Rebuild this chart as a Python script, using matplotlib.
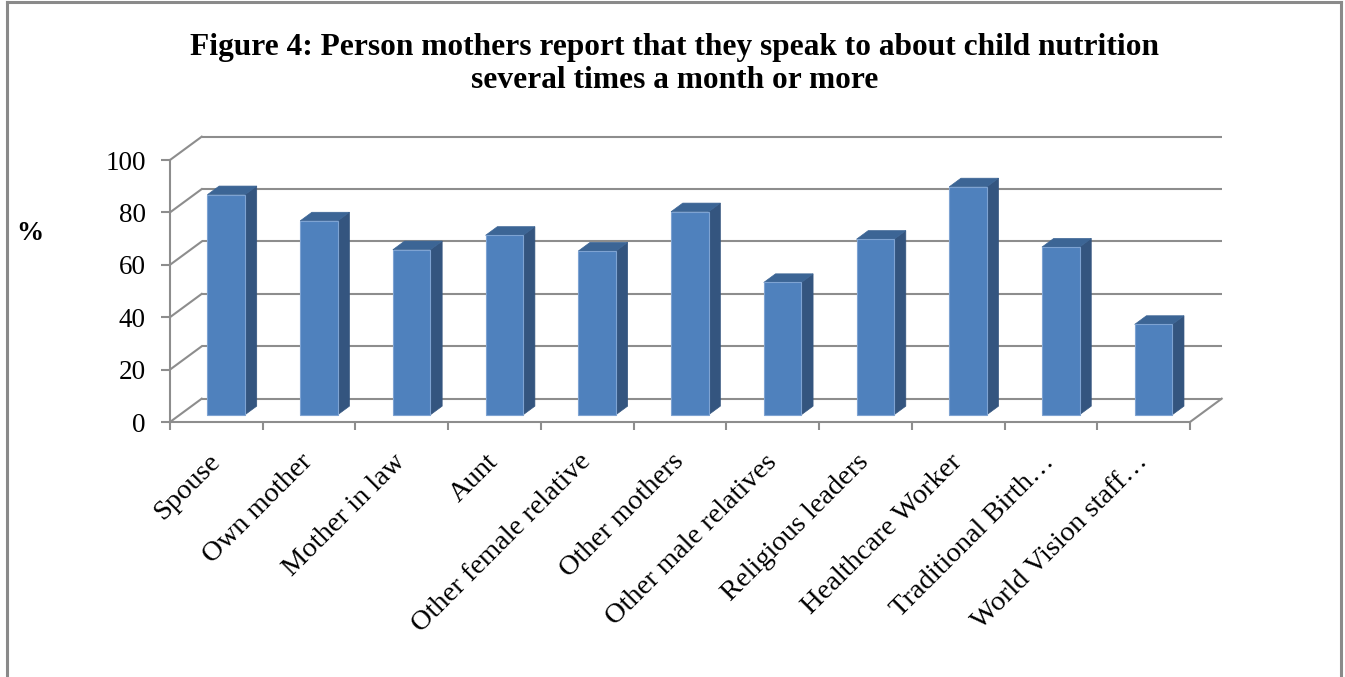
import matplotlib
matplotlib.use("Agg")
import matplotlib.pyplot as plt
from matplotlib.patches import Polygon
from matplotlib.lines import Line2D

# --- data -------------------------------------------------------------
categories = [
    "Spouse", "Own mother", "Mother in law", "Aunt", "Other female relative",
    "Other mothers", "Other male relatives", "Religious leaders",
    "Healthcare Worker", "Traditional Birth\u2026", "World Vision staff\u2026",
]
values = [84, 74, 63, 68.5, 62.5, 77.5, 50.5, 67, 87, 64, 34.5]
y_ticks = [0, 20, 40, 60, 80, 100]

title_lines = [
    "Figure 4: Person mothers report that they speak to about child nutrition",
    "several times a month or more",
]

# --- styling ----------------------------------------------------------
SERIF = ["Liberation Serif", "DejaVu Serif"]
GRID = "#8d8d8d"
FRONT = "#4f81bd"
SIDE = "#34557f"
TOP = "#3c6595"
EDGE = "#7ea3d2"

# oblique depth vector of the 3-D box, in (category, value) units
DX, DY = 0.342, 8.9
BAR_W = 0.405          # bar width as fraction of a category slot
D0, D1 = 0.31, 0.68    # bar depth range within the box

W, H = 1345, 677
fig = plt.figure(figsize=(W / 100, H / 100), dpi=100)
fig.patch.set_facecolor("white")

ax = fig.add_axes([170 / W, (H - 422) / H, 1020 / W, 262 / H])
n = len(categories)
ax.set_xlim(0, n)
ax.set_ylim(0, 100)
ax.set_facecolor("none")

for s in ("top", "right"):
    ax.spines[s].set_visible(False)
for s in ("left", "bottom"):
    ax.spines[s].set_color(GRID)
    ax.spines[s].set_linewidth(1.5)
    ax.spines[s].set_zorder(3)

# value axis
ax.set_yticks(y_ticks)
ax.set_yticklabels([str(t) for t in y_ticks], fontsize=19.5, family=SERIF)
ax.tick_params(axis="y", direction="out", length=6.5, width=1.5,
               color=GRID, pad=11)

# category axis: boundaries carry tick marks, centres carry the labels
ax.set_xticks(range(n + 1))
ax.set_xticklabels([])
ax.tick_params(axis="x", which="major", direction="out", length=6,
               width=1.5, color=GRID)
ax.set_xticks([i + 0.5 for i in range(n)], minor=True)
ax.set_xticklabels(categories, minor=True, fontsize=20.5, family=SERIF)
ax.tick_params(axis="x", which="minor", length=0, pad=26)
for lbl in ax.get_xticklabels(minor=True):
    lbl.set_rotation(45)
    lbl.set_ha("right")
    lbl.set_va("center")
    lbl.set_rotation_mode("anchor")

# back wall gridlines and side wall diagonals
for v in y_ticks:
    ax.plot([DX, n + DX], [v + DY, v + DY], color=GRID, lw=1.5,
            clip_on=False, zorder=1, solid_capstyle="butt")
    ax.plot([0, DX], [v, v + DY], color=GRID, lw=1.5, clip_on=False,
            zorder=1)
# right edge of the floor
ax.plot([n, n + DX], [0, DY], color=GRID, lw=1.5, clip_on=False, zorder=1)

# bars drawn as oblique boxes
for i, v in enumerate(values):
    cx = i + 0.5
    x0 = cx - BAR_W / 2 + D0 * DX
    x1 = cx + BAR_W / 2 + D0 * DX
    y0 = D0 * DY
    y1 = v + D0 * DY
    ddx = (D1 - D0) * DX
    ddy = (D1 - D0) * DY
    side = Polygon([(x1, y0), (x1 + ddx, y0 + ddy), (x1 + ddx, y1 + ddy),
                    (x1, y1)], closed=True, facecolor=SIDE, edgecolor=SIDE,
                   lw=0.5, clip_on=False, zorder=4)
    top = Polygon([(x0, y1), (x1, y1), (x1 + ddx, y1 + ddy),
                   (x0 + ddx, y1 + ddy)], closed=True, facecolor=TOP,
                  edgecolor=TOP, lw=0.5, clip_on=False, zorder=4)
    front = Polygon([(x0, y0), (x1, y0), (x1, y1), (x0, y1)], closed=True,
                    facecolor=FRONT, edgecolor=EDGE, lw=0.8, clip_on=False,
                    zorder=5)
    for p in (side, top, front):
        ax.add_patch(p)

# axis unit label
fig.text(30 / W, 1 - 233 / H, "%", fontsize=19.5, fontweight="bold",
         family=SERIF, ha="center", va="center")

# title
fig.text(675 / W, 1 - 47 / H, title_lines[0], fontsize=22.6,
         fontweight="bold", family=SERIF, ha="center", va="center")
fig.text(675 / W, 1 - 81 / H, title_lines[1], fontsize=22.6,
         fontweight="bold", family=SERIF, ha="center", va="center")

# chart frame
for xs, ys in (([7 / W, 7 / W], [0, 1 - 2 / H]),
               ([1341 / W, 1341 / W], [0, 1 - 2 / H]),
               ([7 / W, 1341 / W], [1 - 2 / H, 1 - 2 / H])):
    fig.add_artist(Line2D(xs, ys, color="#8a8a8a", lw=2.2))

fig.savefig("out.png", dpi=100, facecolor="white")
